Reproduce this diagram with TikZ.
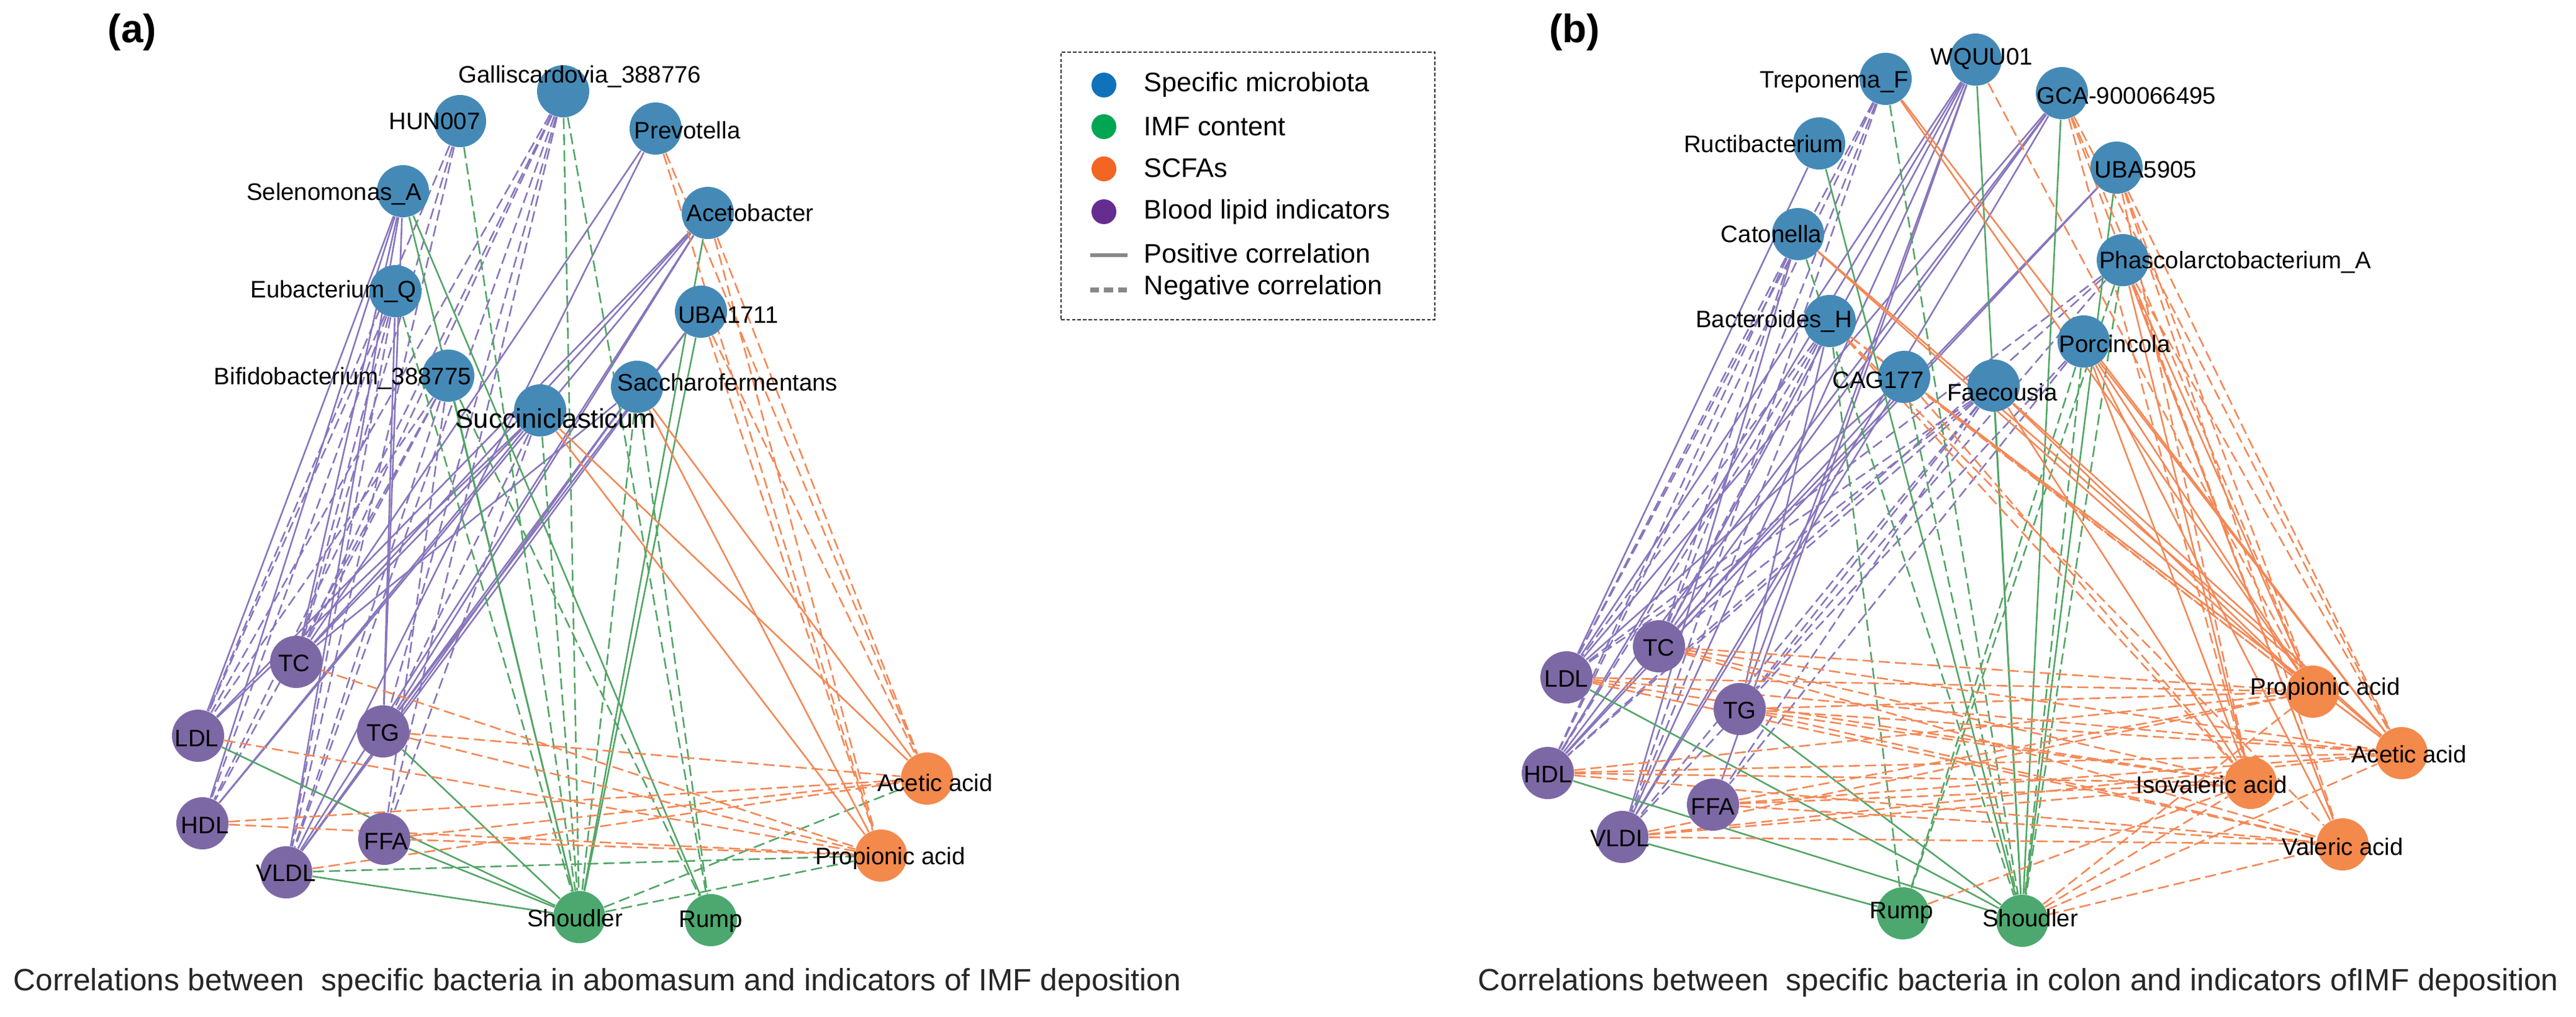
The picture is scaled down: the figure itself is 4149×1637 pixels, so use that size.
\documentclass[tikz,border=0pt]{standalone}
\usepackage{fontspec}
\setmainfont{Liberation Sans}
\usetikzlibrary{backgrounds}
\definecolor{nblue}{RGB}{69,138,183}
\definecolor{npurple}{RGB}{125,104,166}
\definecolor{ngreen}{RGB}{76,168,111}
\definecolor{norange}{RGB}{244,137,76}
\definecolor{epurple}{RGB}{136,118,188}
\definecolor{egreen}{RGB}{82,165,102}
\definecolor{eorange}{RGB}{243,136,86}
\definecolor{lblue}{RGB}{16,114,187}
\definecolor{lgreen}{RGB}{0,166,81}
\definecolor{lorange}{RGB}{242,101,34}
\definecolor{lpurple}{RGB}{102,45,145}
\definecolor{lgray}{RGB}{136,136,136}
\tikzset{
  nd/.style={circle,minimum size=21pt,inner sep=0pt},
  mb/.style={nd,fill=nblue},
  lp/.style={nd,fill=npurple},
  im/.style={nd,fill=ngreen},
  sc/.style={nd,fill=norange},
  lab/.style={inner sep=0pt,font=\fontsize{9.6}{11}\selectfont},
  captxt/.style={inner sep=0pt,anchor=west,font=\fontsize{12.4}{14}\selectfont,text=black!85},
  ttl/.style={inner sep=0pt,font=\fontsize{16}{18}\selectfont\bfseries},
  lgt/.style={inner sep=0pt,anchor=west,font=\fontsize{10.8}{12}\selectfont},
  lgc/.style={circle,minimum size=10pt,inner sep=0pt},
  edg/.style={line width=0.65pt},
  neg/.style={dash pattern=on 4.5pt off 2pt},
  ps/.style={edg,epurple},
  pd/.style={edg,epurple,neg},
  gs/.style={edg,egreen},
  gd/.style={edg,egreen,neg},
  os/.style={edg,eorange},
  od/.style={edg,eorange,neg}
}
\begin{document}
\begin{tikzpicture}[x=0.25pt,y=-0.25pt]
\useasboundingbox (0,0) rectangle (4149,1637);
% ---------------- panel (a) nodes
\node[mb] (aGal) at (907,147) {};
\node[mb] (aHUN) at (741,195) {};
\node[mb] (aPre) at (1056,207) {};
\node[mb] (aSel) at (649,308) {};
\node[mb] (aAce) at (1140,343) {};
\node[mb] (aEub) at (637,469) {};
\node[mb] (aUBA) at (1129,502) {};
\node[mb] (aBif) at (722,605) {};
\node[mb] (aSac) at (1026,623) {};
\node[mb] (aSuc) at (870,661) {};
\node[lp] (aTC) at (477,1066) {};
\node[lp] (aLDL) at (319,1185) {};
\node[lp] (aTG) at (617,1178) {};
\node[lp] (aHDL) at (326,1326) {};
\node[lp] (aFFA) at (619,1351) {};
\node[lp] (aVLDL) at (461,1405) {};
\node[im] (aSho) at (933,1477) {};
\node[im] (aRum) at (1145,1482) {};
\node[sc] (aAcet) at (1493,1254) {};
\node[sc] (aProp) at (1419,1378) {};
% ---------------- panel (b) nodes
\node[mb] (bTre) at (3037,127) {};
\node[mb] (bWQU) at (3182,96) {};
\node[mb] (bGCA) at (3321,150) {};
\node[mb] (bRuc) at (2930,231) {};
\node[mb] (bUBA) at (3409,270) {};
\node[mb] (bCat) at (2896,377) {};
\node[mb] (bPha) at (3419,419) {};
\node[mb] (bBac) at (2947,517) {};
\node[mb] (bPor) at (3356,550) {};
\node[mb] (bCAG) at (3067,607) {};
\node[mb] (bFae) at (3211,621) {};
\node[lp] (bTC) at (2672,1041) {};
\node[lp] (bLDL) at (2523,1091) {};
\node[lp] (bTG) at (2802,1142) {};
\node[lp] (bHDL) at (2493,1245) {};
\node[lp] (bFFA) at (2759,1296) {};
\node[lp] (bVLDL) at (2613,1348) {};
\node[im] (bRum) at (3065,1471) {};
\node[im] (bSho) at (3257,1483) {};
\node[sc] (bProp) at (3725,1114) {};
\node[sc] (bAcet) at (3868,1213) {};
\node[sc] (bIso) at (3625,1261) {};
\node[sc] (bVal) at (3773,1360) {};
% ---------------- edges
\begin{scope}[on background layer]
\foreach \s/\t in {aSel/aLDL,aSel/aHDL,aSel/aTC,aSel/aTG,aSel/aVLDL,aEub/aTG,aPre/aTC,aPre/aVLDL,aAce/aLDL,aAce/aHDL,aAce/aTC,aAce/aTG,aAce/aVLDL,aUBA/aTG,aUBA/aVLDL,aSac/aTG,aSac/aVLDL,aSac/aTC,aSuc/aLDL,aSuc/aHDL,aSuc/aTC}
  \draw[ps] (\s) -- (\t);
\foreach \s/\t in {aHUN/aTC,aHUN/aLDL,aHUN/aVLDL,aGal/aLDL,aGal/aHDL,aGal/aTC,aGal/aTG,aGal/aVLDL,aGal/aFFA,aEub/aLDL,aEub/aHDL,aEub/aTC,aEub/aVLDL,aBif/aLDL,aBif/aHDL,aBif/aTC,aBif/aVLDL,aBif/aFFA,aSuc/aTG,aSuc/aFFA}
  \draw[pd] (\s) -- (\t);
\foreach \s/\t in {aSel/aSho,aSel/aRum,aBif/aSho,aAce/aSho,aUBA/aSho,aLDL/aSho,aTG/aSho,aFFA/aSho,aVLDL/aSho}
  \draw[gs] (\s) -- (\t);
\foreach \s/\t in {aHUN/aSho,aGal/aSho,aGal/aRum,aEub/aSho,aBif/aRum,aSac/aSho,aSac/aRum,aSuc/aSho,aVLDL/aProp,aSho/aAcet,aSho/aProp}
  \draw[gd] (\s) -- (\t);
\foreach \s/\t in {aSuc/aAcet,aSuc/aProp,aSac/aAcet,aSac/aProp}
  \draw[os] (\s) -- (\t);
\foreach \s/\t in {aPre/aAcet,aPre/aProp,aAce/aAcet,aAce/aProp,aUBA/aAcet,aUBA/aProp,aTC/aProp,aTG/aAcet,aTG/aProp,aLDL/aProp,aHDL/aAcet,aHDL/aProp,aFFA/aProp,aFFA/aAcet,aVLDL/aAcet}
  \draw[od] (\s) -- (\t);
% panel (b)
\foreach \s/\t in {bWQU/bLDL,bWQU/bHDL,bWQU/bTC,bWQU/bTG,bWQU/bVLDL,bWQU/bFFA,bGCA/bLDL,bGCA/bHDL,bGCA/bTC,bGCA/bVLDL,bRuc/bLDL,bUBA/bTC,bUBA/bHDL,bCat/bVLDL,bBac/bTG,bCAG/bLDL,bCAG/bHDL,bCAG/bVLDL}
  \draw[ps] (\s) -- (\t);
\foreach \s/\t in {bTre/bLDL,bTre/bHDL,bTre/bTC,bTre/bVLDL,bCat/bLDL,bCat/bHDL,bCat/bTC,bPha/bLDL,bPha/bHDL,bPha/bTG,bBac/bLDL,bBac/bHDL,bBac/bTC,bBac/bVLDL,bFae/bLDL,bFae/bHDL,bFae/bTC,bFae/bTG,bFae/bVLDL,bFae/bFFA,bPor/bFFA,bPor/bVLDL}
  \draw[pd] (\s) -- (\t);
\foreach \s/\t in {bWQU/bSho,bGCA/bSho,bUBA/bSho,bRuc/bSho,bFae/bSho,bLDL/bSho,bTG/bSho,bHDL/bSho,bVLDL/bRum}
  \draw[gs] (\s) -- (\t);
\foreach \s/\t in {bTre/bSho,bCat/bSho,bBac/bRum,bCAG/bSho,bPor/bSho,bPor/bRum,bPha/bRum,bPha/bSho}
  \draw[gd] (\s) -- (\t);
\foreach \s/\t in {bTre/bProp,bTre/bAcet,bCat/bProp,bCat/bAcet,bPha/bProp,bPha/bIso,bPha/bVal,bPor/bProp,bPor/bAcet,bPor/bIso,bPor/bVal,bCAG/bAcet,bFae/bProp,bFae/bAcet,bFae/bIso}
  \draw[os] (\s) -- (\t);
\foreach \s/\t in {bWQU/bProp,bGCA/bProp,bGCA/bAcet,bGCA/bIso,bGCA/bVal,bUBA/bProp,bUBA/bAcet,bUBA/bIso,bUBA/bVal,bPha/bAcet,bBac/bProp,bBac/bAcet,bBac/bIso,bBac/bVal,bCAG/bProp,bCAG/bIso,
  bTC/bProp,bTC/bAcet,bTC/bIso,bTC/bVal,bLDL/bProp,bLDL/bAcet,bLDL/bIso,bLDL/bVal,bTG/bProp,bTG/bAcet,bTG/bIso,bTG/bVal,bHDL/bProp,bHDL/bAcet,bHDL/bIso,bHDL/bVal,bFFA/bProp,bFFA/bAcet,bFFA/bIso,bFFA/bVal,bVLDL/bProp,bVLDL/bAcet,bVLDL/bIso,bVLDL/bVal,
  bSho/bProp,bSho/bAcet,bSho/bIso,bSho/bVal,bRum/bIso}
  \draw[od] (\s) -- (\t);
\end{scope}
% ---------------- labels (a)
\node[ttl] (ttlA) at (213,52) {(a)};
\node[lab] (aGalL) at (934,123) {Galliscardovia\_388776};
\node[lab] (aHUNL) at (700,195) {HUN007};
\node[lab] (aPreL) at (1107,210) {Prevotella};
\node[lab] (aSelL) at (538,312) {Selenomonas\_A};
\node[lab] (aAceL) at (1208,343) {Acetobacter};
\node[lab] (aEubL) at (537,469) {Eubacterium\_Q};
\node[lab] (aUBAL) at (1173,507) {UBA1711};
\node[lab] (aBifL) at (552,609) {Bifidobacterium\_388775};
\node[lab] (aSacL) at (1172,616) {Saccharofermentans};
\node[lab,font=\fontsize{10.9}{12}\selectfont] (aSucL) at (895,674) {Succiniclasticum};
\node[lab] (aTCL) at (474,1068) {TC};
\node[lab] (aLDLL) at (317,1189) {LDL};
\node[lab] (aTGL) at (617,1180) {TG};
\node[lab] (aHDLL) at (330,1329) {HDL};
\node[lab] (aFFAL) at (622,1355) {FFA};
\node[lab] (aVLDLL) at (461,1406) {VLDL};
\node[lab] (aShoL) at (926,1479) {Shoudler};
\node[lab] (aRumL) at (1145,1484) {Rump};
\node[lab] (aAcetL) at (1506,1261) {Acetic acid};
\node[lab] (aPropL) at (1434,1383) {Propionic acid};
\node[captxt] (capA) at (21,1583) {Correlations between\ \ specific bacteria in abomasum and indicators of IMF deposition};
% ---------------- labels (b)
\node[ttl] (ttlB) at (2536,52) {(b)};
\node[lab] (bTreL) at (2954,132) {Treponema\_F};
\node[lab] (bWQUL) at (3192,95) {WQUU01};
\node[lab] (bGCAL) at (3425,154) {GCA-900066495};
\node[lab] (bRucL) at (2840,232) {Ructibacterium};
\node[lab] (bUBAL) at (3456,273) {UBA5905};
\node[lab] (bCatL) at (2853,377) {Catonella};
\node[lab] (bPhaL) at (3600,422) {Phascolarctobacterium\_A};
\node[lab] (bBacL) at (2857,517) {Bacteroides\_H};
\node[lab] (bPorL) at (3406,554) {Porcincola};
\node[lab] (bCAGL) at (3025,612) {CAG177};
\node[lab] (bFaeL) at (3225,632) {Faecousia};
\node[lab] (bTCL) at (2672,1043) {TC};
\node[lab] (bLDLL) at (2523,1093) {LDL};
\node[lab] (bTGL) at (2802,1144) {TG};
\node[lab] (bHDLL) at (2493,1247) {HDL};
\node[lab] (bFFAL) at (2759,1299) {FFA};
\node[lab] (bVLDLL) at (2609,1350) {VLDL};
\node[lab] (bRumL) at (3063,1470) {Rump};
\node[lab] (bShoL) at (3270,1479) {Shoudler};
\node[lab] (bPropL) at (3745,1110) {Propionic acid};
\node[lab] (bAcetL) at (3880,1215) {Acetic acid};
\node[lab] (bIsoL) at (3562,1264) {Isovaleric acid};
\node[lab] (bValL) at (3773,1364) {Valeric acid};
\node[captxt] (capB) at (2380,1583) {Correlations between\ \ specific bacteria in colon and indicators ofIMF deposition};
% ---------------- legend
\node[draw=black!80,line width=0.5pt,dash pattern=on 1.4pt off 0.8pt,minimum width=150.5pt,minimum height=107.75pt,inner sep=0pt,anchor=north west] (lgBox) at (1708,83) {};
\node[lgc,fill=lblue] (lg1) at (1778,137) {};
\node[lgc,fill=lgreen] (lg2) at (1778,204) {};
\node[lgc,fill=lorange] (lg3) at (1778,272) {};
\node[lgc,fill=lpurple] (lg4) at (1778,341) {};
\coordinate (lgs1) at (1756,411);
\coordinate (lgs2) at (1816,411);
\coordinate (lgd1) at (1756,467);
\coordinate (lgd2) at (1818,467);
\draw[lgray,line width=1.4pt] (lgs1) -- (lgs2);
\draw[lgray,line width=2.2pt,dash pattern=on 3.6pt off 2pt] (lgd1) -- (lgd2);
\node[lgt] (lt1) at (1842,136) {Specific microbiota};
\node[lgt] (lt2) at (1842,204) {IMF content};
\node[lgt] (lt3) at (1842,271) {SCFAs};
\node[lgt] (lt4) at (1842,341) {Blood lipid indicators};
\node[lgt] (lt5) at (1842,408) {Positive correlation};
\node[lgt] (lt6) at (1842,463) {Negative correlation};
\end{tikzpicture}
\end{document}
